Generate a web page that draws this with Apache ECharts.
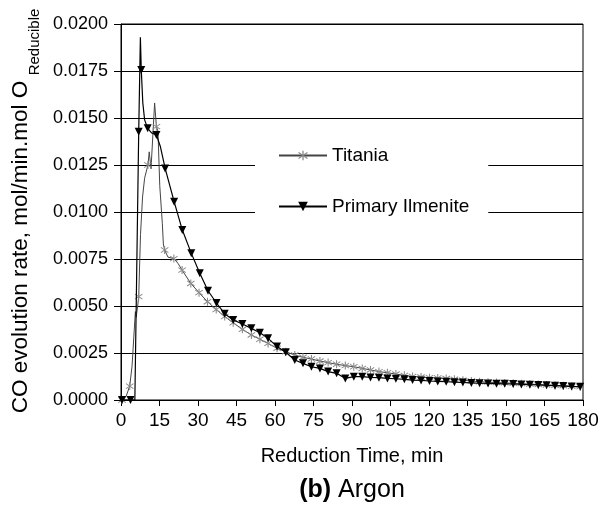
<!DOCTYPE html>
<html>
<head>
<meta charset="utf-8">
<script src="https://cdn.jsdelivr.net/npm/echarts@6/dist/echarts.min.js"></script>
<style>
  html, body { margin: 0; padding: 0; background: #fff; }
  #chart { width: 612px; height: 506px; }
</style>
</head>
<body>
<div id="chart"></div>
<script>
// Titania: points carrying an asterisk marker
var titaniaMarkTime = [0.4, 3.4, 6.9, 10.5, 13.8, 17.0, 20.6, 23.8, 27.2, 30.4, 33.7, 37.1, 40.4,
  43.7, 47.3, 50.8, 54.1, 57.3, 60.8, 64.2, 67.7, 70.9, 74.2, 77.5, 80.7, 84.0, 87.4, 90.7, 94.0,
  97.2, 100.5, 103.8, 107.1, 110.4, 113.6, 116.9, 120.2, 123.4, 126.7, 129.9, 133.2, 136.5, 139.7,
  143.0, 146.3, 149.5, 152.8, 156.0, 159.3, 162.6, 165.8, 169.1, 172.3, 175.6, 178.9];
var titaniaMarkRate = [0, 0.00074, 0.0055, 0.0125, 0.01454, 0.00798, 0.00752, 0.00691, 0.0062, 0.00571, 0.00523, 0.00481, 0.00444,
  0.00411, 0.00376, 0.00346, 0.00323, 0.00301, 0.00275, 0.00257, 0.00239, 0.00227, 0.00218, 0.00207, 0.00199, 0.0019, 0.00183, 0.00177, 0.00168,
  0.0016, 0.00151, 0.00145, 0.00138, 0.00131, 0.00125, 0.00122, 0.00119, 0.00117, 0.00114, 0.0011, 0.00105, 0.00101, 0.00097,
  0.00095, 0.00093, 0.00091, 0.00089, 0.00087, 0.00085, 0.00082, 0.0008, 0.00078, 0.00076, 0.00073, 0.00071];
// Titania: extra points of the curve without marker (peaks)
var titaniaLineTime = [0, 2.0, 4.3, 4.7, 5.6, 5.9, 6.5, 7.6, 8.4, 9.2, 11.0, 11.7, 13.1, 14.4, 15.1, 16.1, 16.5, 18.3, 22.2];
var titaniaLineRate = [0, 0.0002, 0.0018, 0.0017, 0.0047, 0.0044, 0.0050, 0.0088, 0.0108, 0.0118, 0.0132, 0.0123, 0.0158, 0.0143, 0.0114, 0.0094, 0.0083, 0.0076, 0.00727];

// Primary Ilmenite
var ilmMarkTime = [0.4, 3.7, 6.9, 7.9, 10.4, 13.8, 17.2, 20.7, 23.9, 27.4, 30.7, 33.9, 37.2, 40.4,
  43.7, 47.3, 50.8, 54.1, 57.3, 60.8, 64.2, 67.7, 70.9, 74.2, 77.5, 80.7, 84.0, 87.4, 90.7, 94.0,
  97.2, 100.5, 103.8, 107.1, 110.4, 113.6, 116.9, 120.2, 123.4, 126.7, 129.9, 133.2, 136.5, 139.7,
  143.0, 146.3, 149.5, 152.8, 156.0, 159.3, 162.6, 165.8, 169.1, 172.3, 175.6, 178.9];
var ilmMarkRate = [0, 0, 0.01427, 0.01755, 0.01445, 0.0141, 0.01232, 0.01055, 0.00904, 0.0078, 0.00674, 0.00581, 0.00516, 0.00459,
  0.00426, 0.00404, 0.00381, 0.00358, 0.00328, 0.00284, 0.00254, 0.00213, 0.00195, 0.00177, 0.00168, 0.00151, 0.00142, 0.00115, 0.00124, 0.00124,
  0.0012, 0.00119, 0.00115, 0.00113, 0.0011, 0.00106, 0.00104, 0.00101, 0.00099, 0.00097, 0.00095, 0.00093, 0.00091, 0.00089,
  0.00088, 0.00087, 0.00086, 0.00085, 0.00083, 0.00081, 0.0008, 0.00078, 0.00076, 0.00074, 0.00072, 0.0007];
var ilmLineTime = [0, 5.4, 7.55, 8.5, 9.2, 12.0, 15.3];
var ilmLineRate = [0, 0, 0.0193, 0.0158, 0.0149, 0.0142, 0.0135];

var xTicks = [0, 180, 15];
var yTicks = [0, 0.02, 0.0025];

var asterisk = 'path://M4.4,0 L5.6,0 L5.6,10 L4.4,10 Z M0.6,2.3 L1.2,1.3 L9.4,7.7 L8.8,8.7 Z M9.4,2.3 L8.8,1.3 L0.6,7.7 L1.2,8.7 Z';

function buildPoints(mT, mV, lT, lV) {
  var pts = [];
  for (var i = 0; i < mT.length; i++) pts.push({ value: [mT[i], mV[i]] });
  for (var j = 0; j < lT.length; j++) pts.push({ value: [lT[j], lV[j]], symbol: 'none' });
  pts.sort(function (a, b) { return a.value[0] - b.value[0]; });
  return pts;
}

var font = 'Liberation Sans, Arial, sans-serif';
var chart = echarts.init(document.getElementById('chart'));

var option = {
  animation: false,
  backgroundColor: '#fff',
  grid: {
    left: 121, right: 29, top: 24, bottom: 106,
    show: true, borderColor: '#000', borderWidth: 1, backgroundColor: 'transparent'
  },
  legend: {
    data: ['Titania', 'Primary Ilmenite'],
    orient: 'vertical',
    left: 255, top: 128,
    padding: [18, 19, 18, 23],
    itemWidth: 48, itemHeight: 12, itemGap: 32,
    backgroundColor: '#fff',
    selectedMode: false,
    textStyle: { fontFamily: font, fontSize: 19, color: '#000' }
  },
  xAxis: {
    type: 'value',
    min: xTicks[0], max: xTicks[1], interval: xTicks[2],
    name: 'Reduction Time, min',
    nameLocation: 'middle', nameGap: 46,
    nameTextStyle: { fontFamily: font, fontSize: 20, color: '#000' },
    axisLine: { lineStyle: { color: '#000', width: 1 } },
    axisTick: { length: 6, lineStyle: { color: '#000' } },
    axisLabel: { fontFamily: font, fontSize: 19, color: '#000', margin: 11 },
    splitLine: { show: false }
  },
  yAxis: {
    type: 'value',
    min: yTicks[0], max: yTicks[1], interval: yTicks[2],
    axisLine: { show: true, lineStyle: { color: '#000', width: 1 } },
    axisTick: { show: true, length: 7, lineStyle: { color: '#000' } },
    axisLabel: {
      fontFamily: font, fontSize: 18, color: '#000', margin: 13,
      formatter: function (v) { return v.toFixed(4); }
    },
    splitLine: { show: true, lineStyle: { color: '#000', width: 1 } }
  },
  graphic: [
    {
      type: 'text', x: 21, y: 247, rotation: Math.PI / 2,
      style: { text: 'CO evolution rate, mol/min.mol O', fontFamily: font, fontSize: 22.5,
        fill: '#000', align: 'center', verticalAlign: 'middle' }
    },
    {
      type: 'text', x: 35, y: 42, rotation: Math.PI / 2,
      style: { text: 'Reducible', fontFamily: font, fontSize: 15,
        fill: '#000', align: 'center', verticalAlign: 'middle' }
    },
    {
      type: 'text', x: 352, y: 490,
      style: {
        text: '{b|(b)} Argon',
        fontFamily: font, fontSize: 25, fill: '#000', align: 'center', verticalAlign: 'middle',
        rich: { b: { fontFamily: font, fontSize: 25, fontWeight: 'bold', fill: '#000' } }
      }
    }
  ],
  series: [
    {
      name: 'Titania',
      type: 'line',
      data: buildPoints(titaniaMarkTime, titaniaMarkRate, titaniaLineTime, titaniaLineRate),
      symbol: asterisk,
      symbolSize: 8,
      showAllSymbol: true,
      lineStyle: { color: '#444', width: 1 },
      itemStyle: { color: '#8a8a8a' },
      emphasis: { disabled: true },
      z: 3
    },
    {
      name: 'Primary Ilmenite',
      type: 'line',
      data: buildPoints(ilmMarkTime, ilmMarkRate, ilmLineTime, ilmLineRate),
      symbol: 'triangle',
      symbolRotate: 180,
      symbolSize: 8,
      showAllSymbol: true,
      lineStyle: { color: '#000', width: 1.2 },
      itemStyle: { color: '#000' },
      emphasis: { disabled: true },
      z: 4
    }
  ]
};

chart.setOption(option);
</script>
</body>
</html>
